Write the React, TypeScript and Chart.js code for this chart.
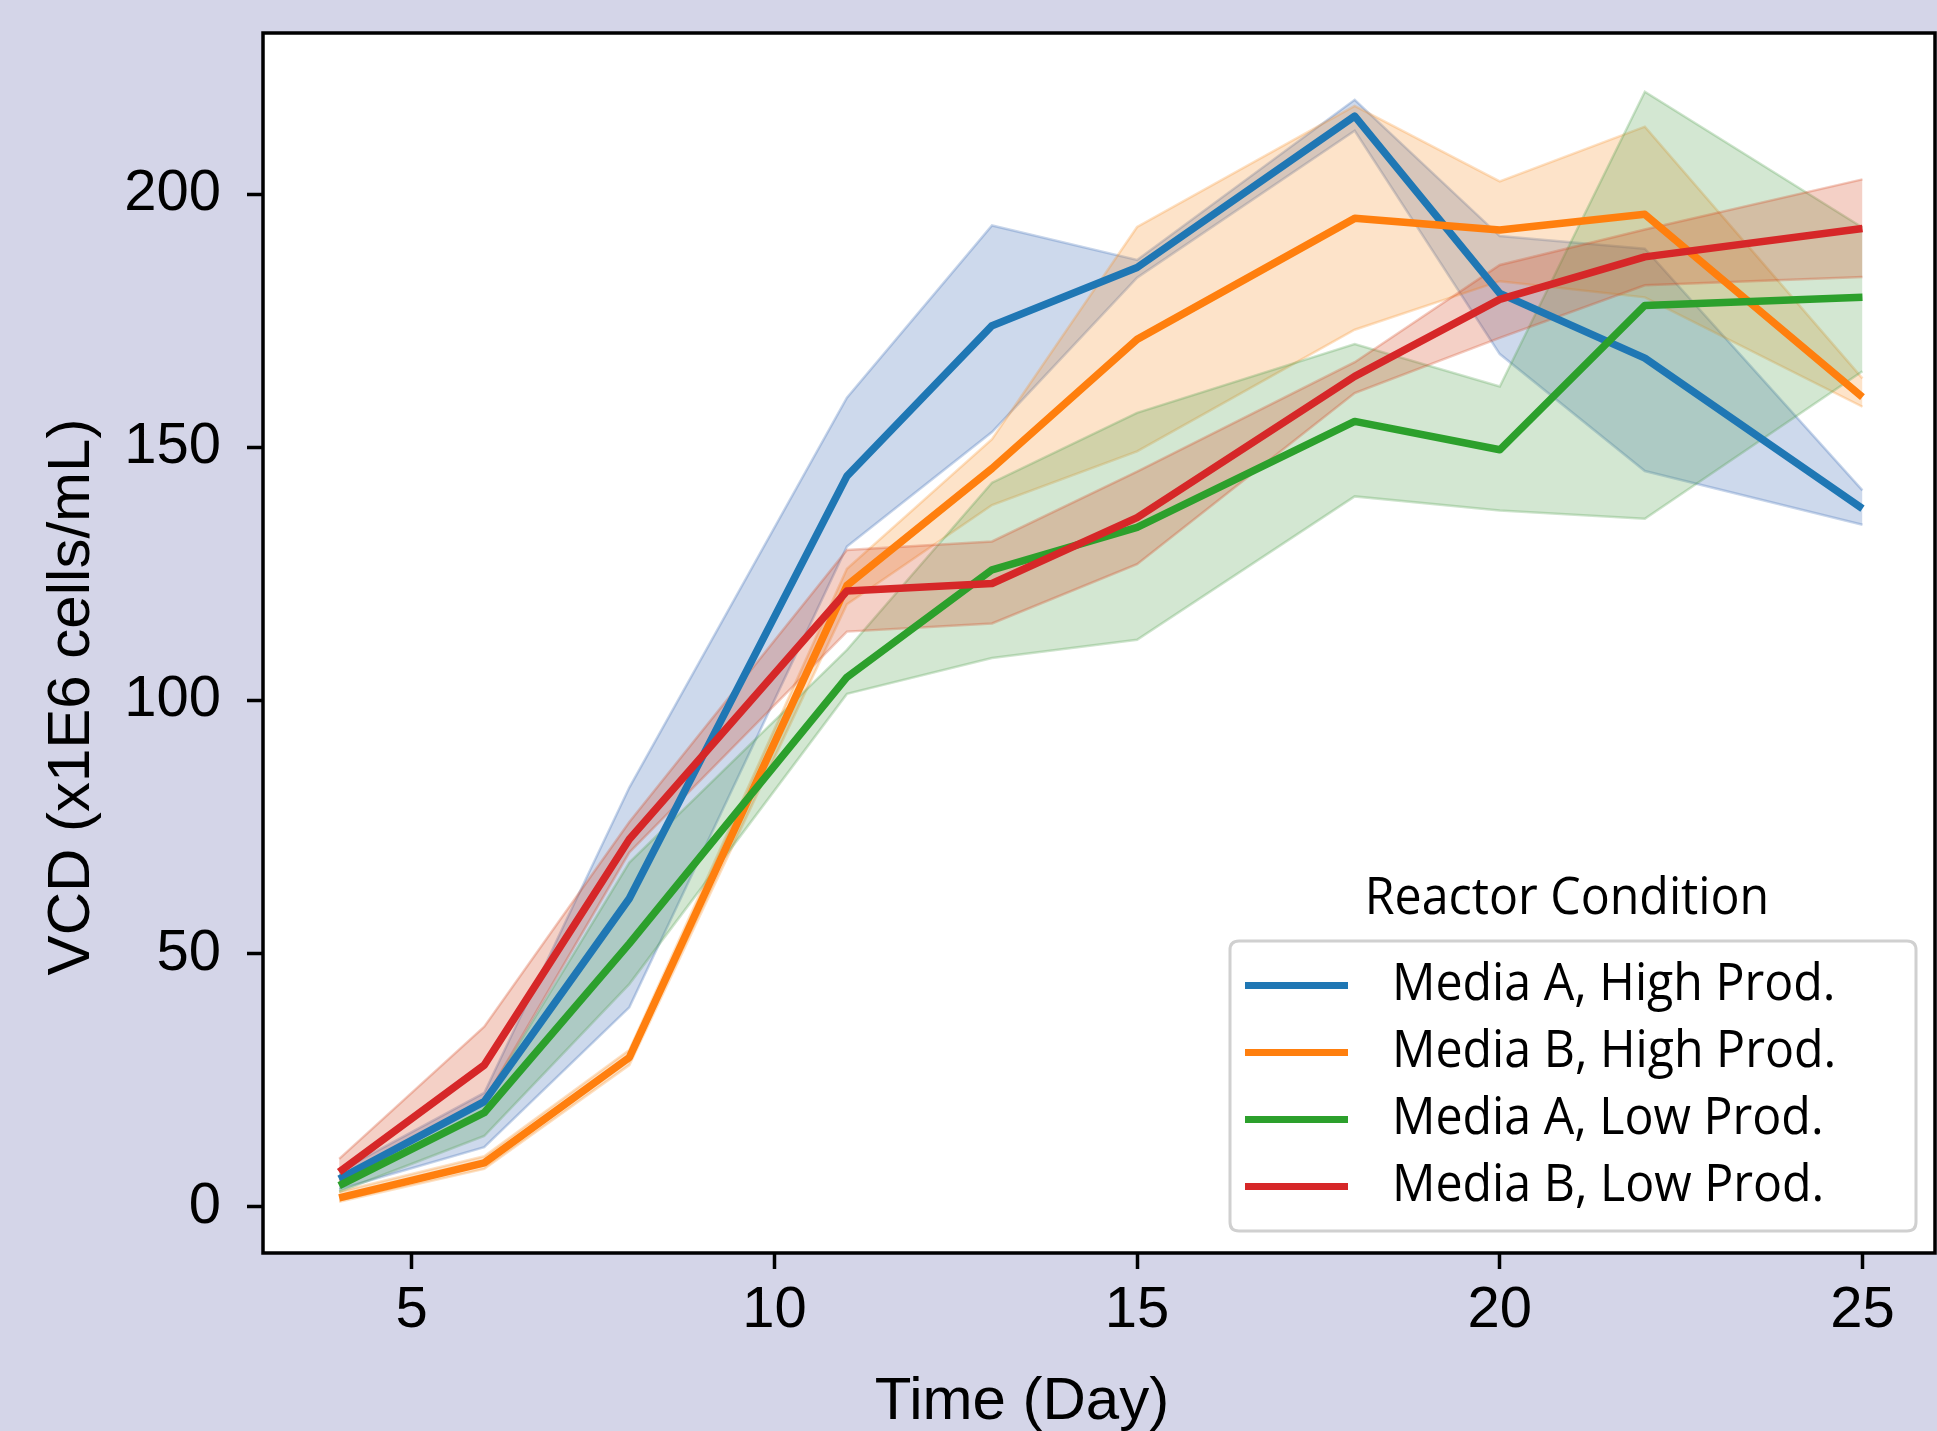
import React, { useEffect, useRef } from "react";
import { Chart, registerables } from "chart.js";

Chart.register(...registerables);

// ---- data ----
const days = [4, 6, 8, 11, 13, 15, 18, 20, 22, 25];

const seriesNames = [
  "Media A, High Prod.",
  "Media B, High Prod.",
  "Media A, Low Prod.",
  "Media B, Low Prod.",
];

const aHighMean = [5.5, 20.8, 60.9, 144.3, 174, 185.5, 215.4, 180.4, 167.6, 137.9];
const aHighLow = [3.5, 11.8, 39.4, 130.4, 153, 183.5, 212.5, 168.4, 145.3, 134.7];
const aHighUp = [7, 22.5, 82.8, 159.8, 193.8, 187, 218.6, 191.7, 189.2, 141.5];

const bHighMean = [1.8, 8.7, 29.5, 122.7, 145.8, 171.3, 195.2, 192.9, 196, 159.9];
const bHighLow = [1, 7.5, 28, 119, 138.6, 149.2, 173.2, 182.8, 179.6, 158];
const bHighUp = [3, 10, 31, 126, 151.6, 193.5, 217.4, 202.5, 213.3, 163.6];

const aLowMean = [4.2, 18.6, 52, 104.6, 125.8, 134.2, 155.1, 149.5, 178, 179.6];
const aLowLow = [3, 14, 44, 101.3, 108.4, 112, 140.3, 137.5, 135.9, 165];
const aLowUp = [5.5, 21, 68, 110, 143, 156.8, 170.4, 162, 220.2, 193.4];

const bLowMean = [6.9, 28, 72.6, 121.6, 123.1, 136.1, 164, 179.2, 187.6, 193.2];
const bLowLow = [5.2, 21, 70, 113.6, 115.2, 126.9, 160.7, 171.6, 182, 183.6];
const bLowUp = [9.5, 35.6, 76, 129.7, 131.4, 145.2, 166.8, 186, 193, 202.9];

const xTicks = [5, 10, 15, 20, 25];
const yTicks = [0, 50, 100, 150, 200];

const xTitle = "Time (Day)";
const yTitle = "VCD (x1E6 cells/mL)";
const legendTitle = "Reactor Condition";

// ---- styles ----
const lineColors = ["#1f77b4", "#ff7f0e", "#2ca02c", "#d62728"];
const bandRGB = ["55,103,179", "247,143,39", "79,159,75", "211,67,27"];

const W = 1937;
const H = 1431;

const pts = (ys: number[]) => days.map((d, i) => ({ x: d, y: ys[i] }));

export default function App() {
  const ref = useRef<HTMLCanvasElement | null>(null);

  useEffect(() => {
    document.body.style.margin = "0";
    let chart: Chart | null = null;
    let cancelled = false;

    const means = [aHighMean, bHighMean, aLowMean, bLowMean];
    const lows = [aHighLow, bHighLow, aLowLow, bLowLow];
    const ups = [aHighUp, bHighUp, aLowUp, bLowUp];

    const datasets: any[] = [];
    for (let i = 0; i < 4; i++) {
      datasets.push({
        label: seriesNames[i] + " upper",
        data: pts(ups[i]),
        borderColor: `rgba(${bandRGB[i]},0.28)`,
        borderWidth: 2.5,
        backgroundColor: `rgba(${bandRGB[i]},0.25)`,
        fill: "+1",
        order: 7 - i,
        pointRadius: 0,
      });
      datasets.push({
        label: seriesNames[i] + " lower",
        data: pts(lows[i]),
        borderColor: `rgba(${bandRGB[i]},0.28)`,
        borderWidth: 2.5,
        fill: false,
        order: 7 - i,
        pointRadius: 0,
      });
    }
    for (let i = 0; i < 4; i++) {
      datasets.push({
        label: seriesNames[i],
        data: pts(means[i]),
        borderColor: lineColors[i],
        borderWidth: 7.5,
        borderJoinStyle: "round",
        borderCapStyle: "butt",
        fill: false,
        order: 3 - i,
        pointRadius: 0,
      });
    }

    const bgPlugin = {
      id: "bgPlugin",
      beforeDraw(c: any) {
        const { ctx, chartArea: a, width, height } = c;
        ctx.save();
        ctx.fillStyle = "#d4d5e8";
        ctx.fillRect(0, 0, width, height);
        ctx.fillStyle = "#ffffff";
        ctx.fillRect(a.left, a.top, a.right - a.left, a.bottom - a.top);
        ctx.restore();
      },
    };

    const framePlugin = {
      id: "framePlugin",
      afterDatasetsDraw(c: any) {
        const { ctx, chartArea: a } = c;
        ctx.save();
        ctx.strokeStyle = "#000";
        ctx.lineWidth = 3.5;
        ctx.strokeRect(a.left, a.top, a.right - a.left, a.bottom - a.top);
        ctx.restore();
      },
    };

    const overlayPlugin = {
      id: "overlayPlugin",
      afterDraw(c: any) {
        const ctx = c.ctx as CanvasRenderingContext2D;
        ctx.save();
        // axis titles
        ctx.fillStyle = "#000";
        ctx.font = '60px "Liberation Sans", Arial, sans-serif';
        ctx.textAlign = "center";
        ctx.textBaseline = "alphabetic";
        ctx.fillText(xTitle, 1022, 1419);
        ctx.save();
        ctx.translate(89, 697);
        ctx.rotate(-Math.PI / 2);
        ctx.fillText(yTitle, 0, 0);
        ctx.restore();

        // legend
        const bx = 1230, by = 941, bw = 686, bh = 290, r = 9;
        ctx.beginPath();
        ctx.moveTo(bx + r, by);
        ctx.lineTo(bx + bw - r, by);
        ctx.quadraticCurveTo(bx + bw, by, bx + bw, by + r);
        ctx.lineTo(bx + bw, by + bh - r);
        ctx.quadraticCurveTo(bx + bw, by + bh, bx + bw - r, by + bh);
        ctx.lineTo(bx + r, by + bh);
        ctx.quadraticCurveTo(bx, by + bh, bx, by + bh - r);
        ctx.lineTo(bx, by + r);
        ctx.quadraticCurveTo(bx, by, bx + r, by);
        ctx.closePath();
        ctx.fillStyle = "rgba(255,255,255,0.8)";
        ctx.fill();
        ctx.strokeStyle = "#d0d0d0";
        ctx.lineWidth = 3;
        ctx.stroke();

        const sx = 0.947;
        ctx.font = '51px "Open Sans", "Noto Sans", sans-serif';
        ctx.fillStyle = "#000";
        // title
        ctx.save();
        ctx.translate(1567, 914);
        ctx.scale(sx, 1);
        ctx.textAlign = "center";
        ctx.fillText(legendTitle, 0, 0);
        ctx.restore();

        for (let i = 0; i < seriesNames.length; i++) {
          const yy = 985.5 + i * 67;
          ctx.beginPath();
          ctx.moveTo(1245, yy);
          ctx.lineTo(1348, yy);
          ctx.strokeStyle = lineColors[i];
          ctx.lineWidth = 7;
          ctx.lineCap = "butt";
          ctx.stroke();
          ctx.save();
          ctx.translate(1392, yy + 14.5);
          ctx.scale(sx, 1);
          ctx.textAlign = "left";
          ctx.fillStyle = "#000";
          ctx.fillText(seriesNames[i], 0, 0);
          ctx.restore();
        }
        ctx.restore();
      },
    };

    const tickFont = { family: '"Liberation Sans", Arial, sans-serif', size: 58 };

    const build = () => {
      if (cancelled || !ref.current) return;
      chart = new Chart(ref.current, {
        type: "line",
        data: { datasets },
        options: {
          animation: false,
          responsive: false,
          devicePixelRatio: 1,
          layout: { padding: { left: 0, top: 33, right: 2, bottom: 0 } },
          elements: { line: { tension: 0 }, point: { radius: 0 } },
          plugins: {
            legend: { display: false },
            tooltip: { enabled: false },
            title: { display: false },
          },
          scales: {
            x: {
              type: "linear",
              min: 2.95,
              max: 26.0,
              afterBuildTicks: (s: any) => {
                s.ticks = xTicks.map((v) => ({ value: v }));
              },
              afterFit: (s: any) => {
                s.height = 178;
                s.paddingLeft = 0;
                s.paddingRight = 0;
              },
              grid: {
                drawOnChartArea: false,
                drawTicks: true,
                tickLength: 16,
                tickWidth: 3.5,
                tickColor: "#000",
              },
              border: { display: false },
              ticks: {
                font: tickFont,
                color: "#000",
                padding: 7,
                maxRotation: 0,
                autoSkip: false,
              },
            },
            y: {
              type: "linear",
              min: -9.1,
              max: 231.8,
              afterBuildTicks: (s: any) => {
                s.ticks = yTicks.map((v) => ({ value: v }));
              },
              afterFit: (s: any) => {
                s.width = 263;
                s.paddingTop = 0;
                s.paddingBottom = 0;
              },
              grid: {
                drawOnChartArea: false,
                drawTicks: true,
                tickLength: 16,
                tickWidth: 3.5,
                tickColor: "#000",
              },
              border: { display: false },
              ticks: {
                font: tickFont,
                color: "#000",
                padding: 26,
                autoSkip: false,
              },
            },
          },
        } as any,
        plugins: [bgPlugin, framePlugin, overlayPlugin],
      });
    };

    const fontsApi = (document as any).fonts;
    if (fontsApi && fontsApi.load) {
      Promise.all([
        fontsApi.load('51px "Open Sans"'),
        fontsApi.load('58px "Liberation Sans"'),
      ])
        .catch(() => null)
        .then(build);
    } else {
      build();
    }

    return () => {
      cancelled = true;
      if (chart) chart.destroy();
    };
  }, []);

  return (
    <canvas
      ref={ref}
      width={W}
      height={H}
      style={{ display: "block", width: W + "px", height: H + "px" }}
    />
  );
}
